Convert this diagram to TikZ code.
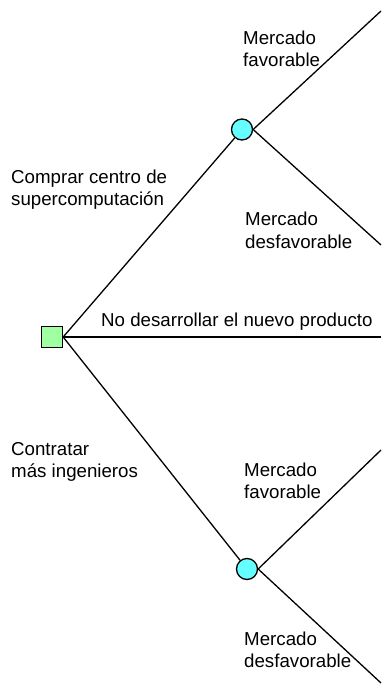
\documentclass[tikz,border=0pt]{standalone}
\usepackage{fontspec}
\setmainfont{Liberation Sans}
\definecolor{sqgreen}{RGB}{160,255,160}
\definecolor{chcyan}{RGB}{102,255,255}
\begin{document}
\begin{tikzpicture}[x=1pt,y=-1pt,
  edge/.style={line width=1.3pt, draw=black},
  decision/.style={draw=black, line width=1.3pt, fill=sqgreen, rectangle, minimum size=21pt, inner sep=0pt},
  chance/.style={draw=black, line width=1.3pt, fill=chcyan, circle, minimum size=21pt, inner sep=0pt},
  lbl/.style={font=\fontsize{18.7}{22}\selectfont, align=left, anchor=base west, inner sep=0pt}]
\useasboundingbox (0,0) rectangle (381,684);
\node[decision] (d) at (52,337) {};
\node[chance] (c1) at (242,129.5) {};
\node[chance] (c2) at (247,569) {};
\coordinate (e1) at (381,11);
\coordinate (e2) at (381,245);
\coordinate (e3) at (381,337);
\coordinate (e4) at (381,450);
\coordinate (e5) at (381,683);
\draw[edge] (d.east) -- (c1);
\draw[edge] (d.east) -- (c2);
\draw[edge] (d.east) -- (e3);
\draw[edge] (c1.east) -- (e1);
\draw[edge] (c1.east) -- (e2);
\draw[edge] (c2.east) -- (e4);
\draw[edge] (c2.east) -- (e5);
\node[lbl] (t1) at (243,67) {Mercado\\favorable};
\node[lbl] (t2) at (245,248) {Mercado\\desfavorable};
\node[lbl] (t3) at (11,206) {Comprar centro de\\supercomputación};
\node[lbl] (t4) at (101,326) {No desarrollar el nuevo producto};
\node[lbl] (t5) at (11,477) {Contratar\\más ingenieros};
\node[lbl] (t6) at (244,498) {Mercado\\favorable};
\node[lbl] (t7) at (244,667) {Mercado\\desfavorable};
\end{tikzpicture}
\end{document}
